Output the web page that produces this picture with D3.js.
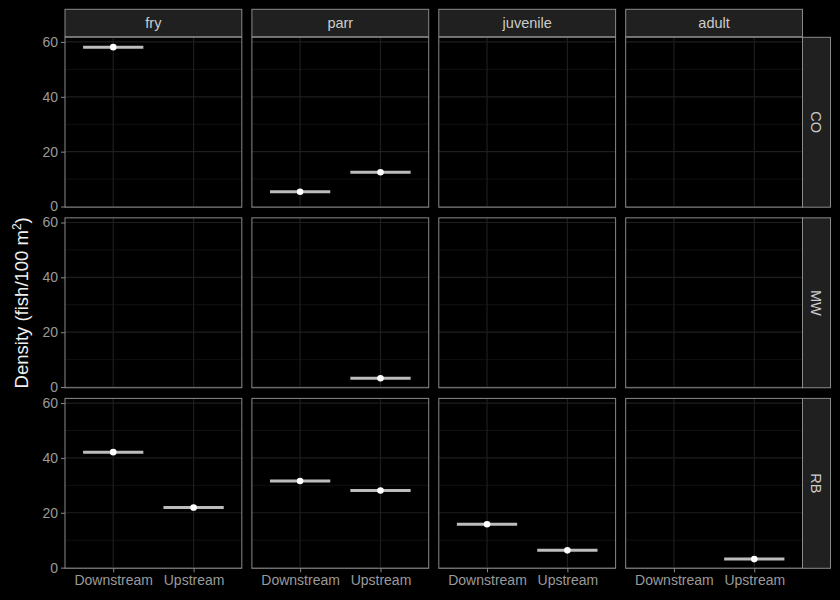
<!DOCTYPE html>
<html><head><meta charset="utf-8">
<script src="https://cdn.jsdelivr.net/npm/d3@7"></script>
<style>body{margin:0;background:#000}svg{display:block}</style>
</head><body>
<svg id="c" width="840" height="600"></svg>
<script>
const stages = ["fry", "parr", "juvenile", "adult"];
const species = ["CO", "MW", "RB"];
const locations = ["Downstream", "Upstream"];
const yTicks = [0, 20, 40, 60];
const yMinor = [10, 30, 50];
const obsSpecies  = ["CO","CO","CO","MW","RB","RB","RB","RB","RB","RB","RB"];
const obsStage    = ["fry","parr","parr","parr","fry","fry","parr","parr","juvenile","juvenile","adult"];
const obsLocation = ["Downstream","Downstream","Upstream","Upstream","Downstream","Upstream","Downstream","Upstream","Downstream","Upstream","Upstream"];
const obsDensity  = [58.1, 5.4, 12.5, 3.2, 42.1, 21.9, 31.6, 28.1, 15.8, 6.3, 3.1];

const data = obsDensity.map((v,i)=>({sp:obsSpecies[i], st:obsStage[i], loc:obsLocation[i], v}));

const svg = d3.select("#c");
svg.append("rect").attr("width",840).attr("height",600).attr("fill","#000");

const colX = d3.scaleBand().domain(stages).range([65, 802.5]).paddingInner(0.054);
const rowY = d3.scaleBand().domain(species).range([37.3, 568.3]).paddingInner(0.059);
const pw = colX.bandwidth(), ph = rowY.bandwidth();

const x = d3.scalePoint().domain(locations).range([0, pw]).padding(0.6);
const y = d3.scaleLinear().domain([-0.25, 61.7]).range([ph, 0]);
const barHalf = x.step() * 0.375;

const font = "'Liberation Sans', Arial, Helvetica, sans-serif";

stages.forEach(st=>{
  const g = svg.append("g").attr("transform",`translate(${colX(st)},9.3)`);
  g.append("rect").attr("width",pw).attr("height",27.4).attr("fill","#202020").attr("stroke","#8a8a8a").attr("stroke-width",1);
  g.append("text").attr("x",pw/2).attr("y",19).attr("text-anchor","middle")
    .attr("fill","#cccccc").attr("font-family",font).attr("font-size",14.5).text(st);
});
species.forEach(sp=>{
  const g = svg.append("g").attr("transform",`translate(802.5,${rowY(sp)})`);
  g.append("rect").attr("width",28).attr("height",ph).attr("fill","#202020").attr("stroke","#8a8a8a").attr("stroke-width",1);
  g.append("text").attr("transform",`translate(14,${ph/2}) rotate(90)`).attr("text-anchor","middle").attr("dy","0.35em")
    .attr("fill","#cccccc").attr("font-family",font).attr("font-size",14.5).text(sp);
});

species.forEach((sp,ri)=>{
  stages.forEach((st,ci)=>{
    const g = svg.append("g").attr("transform",`translate(${colX(st)},${rowY(sp)})`);
    g.append("rect").attr("width",pw).attr("height",ph).attr("fill","#000");
    g.selectAll(".ymin").data(yMinor).join("line").attr("class","ymin").attr("x1",0).attr("x2",pw)
      .attr("y1",d=>y(d)).attr("y2",d=>y(d)).attr("stroke","#111111").attr("stroke-width",1);
    g.selectAll(".ymaj").data(yTicks).join("line").attr("class","ymaj").attr("x1",0).attr("x2",pw)
      .attr("y1",d=>y(d)).attr("y2",d=>y(d)).attr("stroke","#1e1e1e").attr("stroke-width",1.2);
    g.selectAll(".xmaj").data(locations).join("line").attr("class","xmaj").attr("x1",d=>x(d)).attr("x2",d=>x(d))
      .attr("y1",0).attr("y2",ph).attr("stroke","#1e1e1e").attr("stroke-width",1.2);
    const pts = data.filter(d=>d.sp===sp && d.st===st);
    g.selectAll(".bar").data(pts).join("line").attr("class","bar").attr("x1",d=>x(d.loc)-barHalf).attr("x2",d=>x(d.loc)+barHalf)
      .attr("y1",d=>y(d.v)).attr("y2",d=>y(d.v)).attr("stroke","#bdbdbd").attr("stroke-width",3);
    g.selectAll(".pt").data(pts).join("circle").attr("class","pt").attr("cx",d=>x(d.loc)).attr("cy",d=>y(d.v)).attr("r",3.3).attr("fill","#ffffff");
    g.append("rect").attr("width",pw).attr("height",ph).attr("fill","none").attr("stroke","#8a8a8a").attr("stroke-width",1);

    if(ci===0){
      const ax = g.append("g").call(d3.axisLeft(y).tickValues(yTicks).tickSize(4).tickPadding(3));
      ax.select(".domain").remove();
      ax.selectAll("line").attr("stroke","#8a8a8a");
      ax.selectAll("text").attr("fill","#9a9a9a").attr("font-family",font).attr("font-size",14);
    }
    if(ri===species.length-1){
      const ax = g.append("g").attr("transform",`translate(0,${ph})`).call(d3.axisBottom(x).tickSize(4).tickPadding(3));
      ax.select(".domain").remove();
      ax.selectAll("line").attr("stroke","#8a8a8a");
      ax.selectAll("text").attr("fill","#9a9a9a").attr("font-family",font).attr("font-size",14);
    }
  });
});

const t = svg.append("text").attr("transform",`translate(27.5,${(37.3+568.3)/2}) rotate(-90)`).attr("text-anchor","middle")
  .attr("fill","#f0f0f0").attr("font-family",font).attr("font-size",18.5);
t.append("tspan").text("Density (fish/100 m");
t.append("tspan").attr("font-size",12).attr("dy",-7).text("2");
t.append("tspan").attr("dy",7).text(")");
</script>
</body></html>
